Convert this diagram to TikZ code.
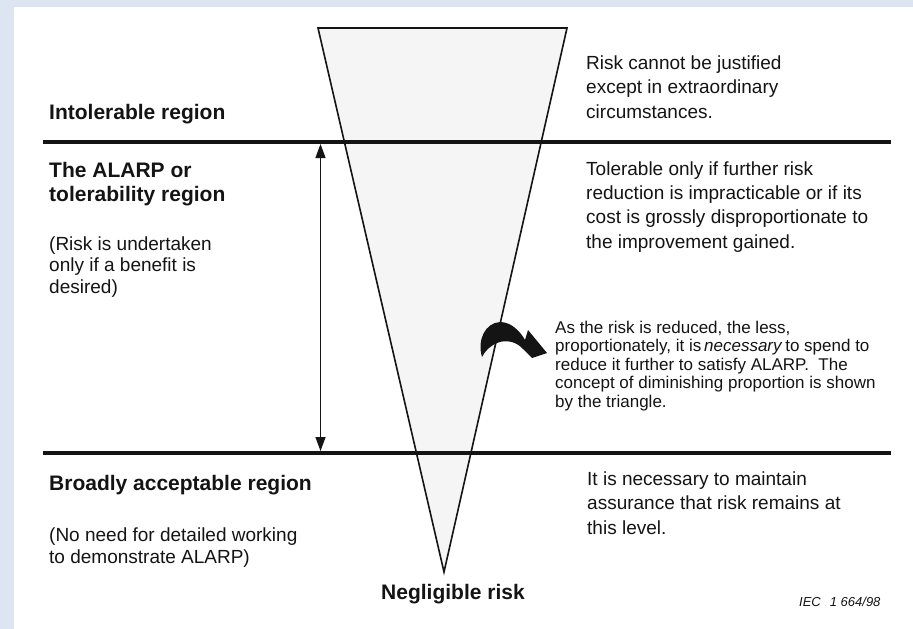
\documentclass[tikz,border=0pt]{standalone}
\usepackage{fontspec}
\setmainfont{Liberation Sans}
\usetikzlibrary{arrows.meta}
\definecolor{pagebg}{HTML}{DDE5F0}
\definecolor{funnel}{HTML}{F5F5F5}
\definecolor{ink}{HTML}{141414}
% multi-line nodes are placed by the baseline of their last line
\tikzset{
  heading/.style={anchor=base west, inner sep=0pt, align=left, text=ink,
    font=\bfseries\fontsize{21}{24}\selectfont},
  note/.style={anchor=base west, inner sep=0pt, align=left, text=ink,
    font=\fontsize{19}{21.5}\selectfont},
  remark/.style={anchor=base west, inner sep=0pt, align=left, text=ink,
    font=\fontsize{19}{24.3}\selectfont},
  smallremark/.style={anchor=base west, inner sep=0pt, align=left, text=ink,
    font=\fontsize{17}{18.5}\selectfont},
  divider/.style={line width=4pt, ink},
  span/.style={line width=1.3pt, ink, {Triangle[length=14pt,width=10pt]}-{Triangle[length=14pt,width=10pt]}},
}
\begin{document}
\begin{tikzpicture}[x=1pt,y=-1pt]
\useasboundingbox (0,0) rectangle (913,629);
% page and frame
\fill[pagebg] (0,0) rectangle (913,629);
\fill[white] (14,7) rectangle (913,629);

% the risk funnel
\filldraw[fill=funnel, draw=ink, line width=1.6pt, line join=miter]
  (318,28) -- (567,28) -- (444,572) -- cycle;

% region boundaries
\coordinate (upL) at (43,142);
\coordinate (upR) at (891,142);
\coordinate (loL) at (43,453);
\coordinate (loR) at (891,453);
\draw[divider] (upL) -- (upR);
\draw[divider] (loL) -- (loR);

% extent of the ALARP region
\coordinate (spanTop) at (320.5,144);
\coordinate (spanBot) at (320.5,451);
\draw[span] (spanTop) -- (spanBot);

% curved pointer towards the explanation
\fill[ink] (482,357)
  .. controls (477,340) and (485,323) .. (500,322)
  .. controls (511,322) and (520,331) .. (525,340)
  -- (528,330) -- (547,353) -- (532,358) -- (523,349)
  .. controls (517,342) and (506,339) .. (497,343)
  .. controls (490,346) and (485,351) .. (482,357) -- cycle;

% left column
\node[heading] (intol) at (49,119) {Intolerable region};
\node[heading] (alarp) at (49,201) {The ALARP or\\tolerability region};
\node[note] (alarpnote) at (49,293) {(Risk is undertaken\\only if a benefit is\\desired)};
\node[heading] (broad) at (49,490) {Broadly acceptable region};
\node[note] (broadnote) at (49,563) {(No need for detailed working\\to demonstrate ALARP)};

% right column
\node[remark] (intoltxt) at (586,118) {Risk cannot be justified\\except in extraordinary\\circumstances.};
\node[remark] (alarptxt) at (586,248) {Tolerable only if further risk\\reduction is impracticable or if its\\cost is grossly disproportionate to\\the improvement gained.};
\node[smallremark] (arrowtxt) at (555,407) {As the risk is reduced, the less,\\proportionately, it is\,\textit{necessary}\,to spend to\\reduce it further to satisfy ALARP.\ \ The\\concept of diminishing proportion is shown\\by the triangle.};
\node[remark] (broadtxt) at (587,534) {It is necessary to maintain\\assurance that risk remains at\\this level.};

% apex label and reference number
\node[anchor=base, inner sep=0pt, text=ink, font=\bfseries\fontsize{21}{24}\selectfont] (neglig) at (453,599) {Negligible risk};
\node[anchor=base west, inner sep=0pt, text=ink, font=\itshape\fontsize{13}{15}\selectfont] (iec) at (799,606) {IEC\hspace{9pt}1 664/98};
\end{tikzpicture}
\end{document}
